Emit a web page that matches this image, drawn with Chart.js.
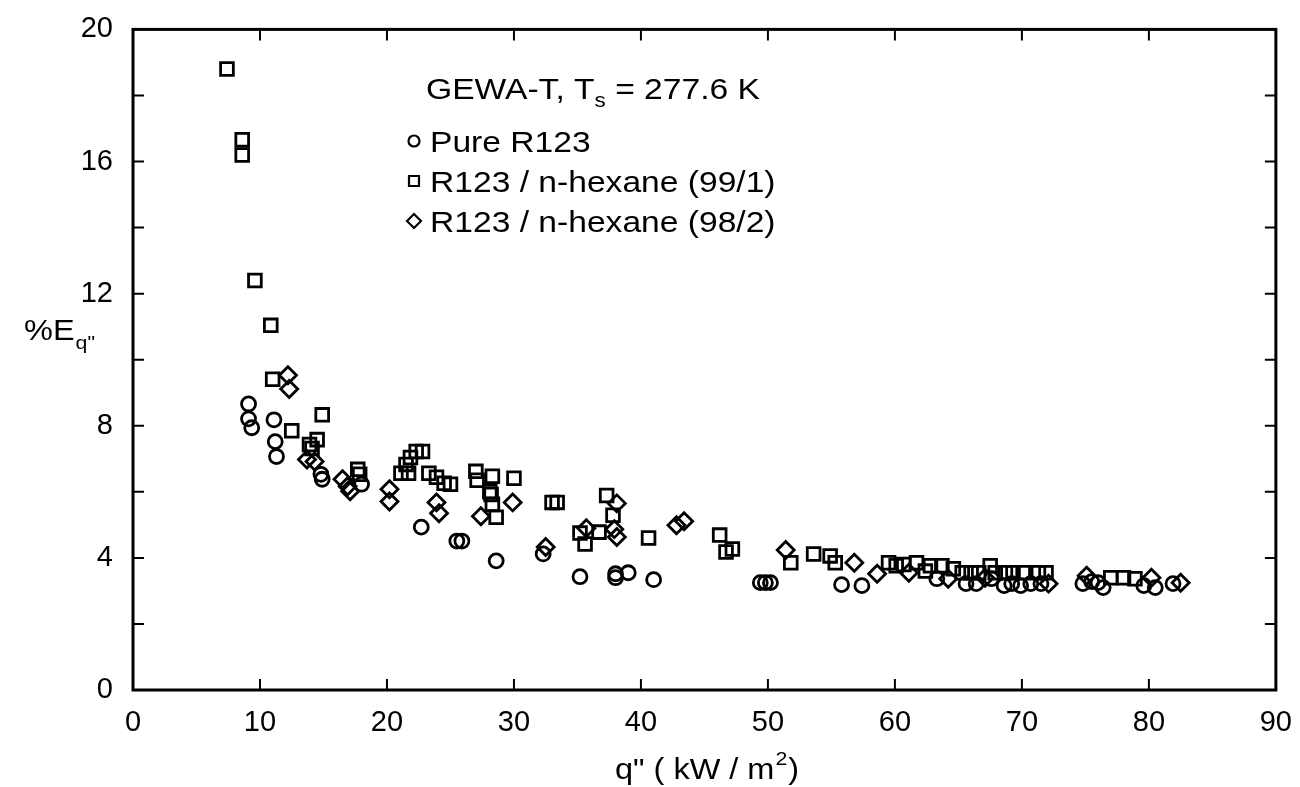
<!DOCTYPE html>
<html>
<head>
<meta charset="utf-8">
<script src="https://cdn.jsdelivr.net/npm/chart.js@4.4.0/dist/chart.umd.min.js"></script>
<style>
  html, body { margin: 0; padding: 0; background: #fff; }
  #wrap { width: 1300px; height: 787px; position: relative; }
</style>
</head>
<body>
<div id="wrap"><canvas id="c"></canvas></div>
<script>
// Pure R123 (circles)
const pureX = [9.1, 9.1, 9.35, 11.1, 11.2, 11.3, 14.8, 14.9, 18.0, 22.7, 25.5, 25.9, 28.6, 32.3, 35.2, 38.0, 38.0, 39.0, 41.0,
  49.4, 49.8, 50.2, 55.8, 57.4, 63.3, 65.6, 66.4, 67.6, 68.6, 69.2, 69.9, 70.7, 71.5, 74.8, 75.5, 76.0, 76.4, 79.6, 80.5, 81.9];
const pureY = [8.66, 8.21, 7.94, 8.18, 7.52, 7.07, 6.53, 6.38, 6.23, 4.93, 4.51, 4.51, 3.91, 4.12, 3.43, 3.52, 3.40, 3.55, 3.34,
  3.25, 3.25, 3.25, 3.19, 3.16, 3.37, 3.22, 3.22, 3.37, 3.16, 3.22, 3.16, 3.22, 3.22, 3.22, 3.28, 3.25, 3.10, 3.16, 3.10, 3.22];

// R123 / n-hexane (99/1) (squares)
const hex1X = [7.4, 8.6, 8.6, 9.6, 10.85, 11.0, 12.5, 13.9, 14.1, 14.5, 14.9, 17.7, 17.85, 21.1, 21.5, 21.7, 21.85, 22.3, 22.8,
  23.3, 23.9, 24.5, 25.0, 27.0, 27.1, 28.1, 28.2, 28.3, 28.3, 28.6, 30.0, 33.0, 33.4, 35.2, 35.6, 36.7, 37.3, 37.8, 40.6,
  46.2, 46.7, 47.2, 51.8, 53.6, 54.9, 55.3, 59.5, 60.1, 60.7, 61.7, 62.4, 62.8, 63.7, 64.6, 65.3, 66.0, 66.6, 67.5, 67.9,
  68.7, 69.3, 70.1, 71.3, 71.9, 77.0, 78.0, 78.9];
const hex1Y = [18.8, 16.66, 16.2, 12.4, 11.04, 9.41, 7.85, 7.43, 7.31, 7.58, 8.33, 6.68, 6.53, 6.56, 6.83, 6.56, 7.04, 7.22, 7.22,
  6.56, 6.44, 6.26, 6.23, 6.62, 6.35, 6.0, 5.92, 6.47, 5.62, 5.23, 6.41, 5.68, 5.68, 4.75, 4.42, 4.78, 5.89, 5.29, 4.6,
  4.69, 4.18, 4.27, 3.85, 4.12, 4.06, 3.85, 3.85, 3.76, 3.8, 3.85, 3.6, 3.76, 3.76, 3.67, 3.55, 3.55, 3.55, 3.76, 3.55,
  3.55, 3.55, 3.55, 3.55, 3.55, 3.4, 3.4, 3.37];

// R123 / n-hexane (98/2) (diamonds)
const hex2X = [12.2, 12.3, 13.7, 14.3, 16.5, 16.9, 17.1, 20.2, 20.2, 23.9, 24.1, 27.4, 29.9, 32.5, 35.7, 37.9, 38.1, 38.1,
  42.8, 43.4, 51.4, 56.8, 58.6, 61.1, 64.2, 67.1, 72.1, 75.1, 80.2, 82.5];
const hex2Y = [9.53, 9.11, 6.98, 6.92, 6.38, 6.17, 6.02, 6.08, 5.71, 5.68, 5.35, 5.26, 5.68, 4.33, 4.9, 4.87, 5.65, 4.63,
  4.99, 5.11, 4.24, 3.85, 3.52, 3.55, 3.37, 3.4, 3.22, 3.46, 3.4, 3.25];

const seriesNames = ['Pure R123', 'R123 / n-hexane (99/1)', 'R123 / n-hexane (98/2)'];
const xTicks = [0, 10, 20, 30, 40, 50, 60, 70, 80, 90];
const yTicks = [0, 4, 8, 12, 16, 20];

const FONT = '"Liberation Sans", Arial, Helvetica, sans-serif';

function toPoints(xs, ys) {
  return xs.map((v, i) => ({ x: v, y: ys[i] }));
}

function makeSet(label, xs, ys, style, r) {
  return {
    label: label,
    data: toPoints(xs, ys),
    pointStyle: style,
    pointRadius: r,
    pointBorderWidth: 2.8,
    borderColor: '#000',
    backgroundColor: 'rgba(0,0,0,0)',
    showLine: false
  };
}

// text stretched a bit sideways, like the scanned original
function wideText(ctx, str, x, y, sx) {
  ctx.save();
  ctx.translate(x, y);
  ctx.scale(sx, 1);
  ctx.fillText(str, 0, 0);
  ctx.restore();
  return ctx.measureText(str).width * sx;
}

// frame, inward ticks, titles and the text legend
const decor = {
  id: 'decor',
  afterDraw(chart) {
    const ctx = chart.ctx;
    const a = chart.chartArea;
    const xs = chart.scales.x, ys = chart.scales.y;
    ctx.save();
    ctx.strokeStyle = '#000';
    ctx.lineWidth = 3;
    ctx.strokeRect(a.left, a.top, a.right - a.left, a.bottom - a.top);

    ctx.lineWidth = 2;
    ctx.beginPath();
    for (let v = 2; v < 20; v += 2) {
      const py = ys.getPixelForValue(v);
      ctx.moveTo(a.left, py); ctx.lineTo(a.left + 11, py);
      ctx.moveTo(a.right, py); ctx.lineTo(a.right - 11, py);
    }
    for (let v = 10; v < 90; v += 10) {
      const px = xs.getPixelForValue(v);
      ctx.moveTo(px, a.bottom); ctx.lineTo(px, a.bottom - 11);
      ctx.moveTo(px, a.top); ctx.lineTo(px, a.top + 11);
    }
    ctx.stroke();

    ctx.fillStyle = '#000';
    ctx.textBaseline = 'alphabetic';
    ctx.textAlign = 'left';
    const S = 1.12;

    // y title: %E with subscript q"
    ctx.font = '29px ' + FONT;
    let yx = 24 + wideText(ctx, '%E', 24, 340, S);
    ctx.font = '19px ' + FONT;
    wideText(ctx, 'q"', yx + 1, 349, S);

    // x title with superscript 2
    ctx.font = '29px ' + FONT;
    const p1 = 'q" ( kW / m';
    const wa = ctx.measureText(p1).width * S;
    ctx.font = '19px ' + FONT;
    const wb = ctx.measureText('2').width * S;
    ctx.font = '29px ' + FONT;
    const wc = ctx.measureText(')').width * S;
    const sx = 706 - (wa + wb + wc) / 2;
    wideText(ctx, p1, sx, 779, S);
    ctx.font = '19px ' + FONT;
    wideText(ctx, '2', sx + wa + 1, 765, S);
    ctx.font = '29px ' + FONT;
    wideText(ctx, ')', sx + wa + wb + 2, 779, S);

    // annotation title: GEWA-T, Ts = 277.6 K
    ctx.font = '30px ' + FONT;
    let tx = 426 + wideText(ctx, 'GEWA-T, T', 426, 99, S);
    ctx.font = '20px ' + FONT;
    tx += wideText(ctx, 's', tx, 107, S);
    ctx.font = '30px ' + FONT;
    wideText(ctx, ' = 277.6 K', tx, 99, S);

    // legend rows
    const rows = [141, 181, 221];
    const styles = ['circle', 'rect', 'rectRot'];
    ctx.lineWidth = 2.2;
    for (let i = 0; i < 3; i++) {
      const cy = rows[i], cx = 414;
      ctx.beginPath();
      if (styles[i] === 'circle') {
        ctx.arc(cx, cy, 5.5, 0, Math.PI * 2);
      } else if (styles[i] === 'rect') {
        ctx.rect(cx - 5, cy - 5, 10, 10);
      } else {
        ctx.moveTo(cx - 7, cy); ctx.lineTo(cx, cy - 7); ctx.lineTo(cx + 7, cy); ctx.lineTo(cx, cy + 7); ctx.closePath();
      }
      ctx.stroke();
      ctx.font = '30px ' + FONT;
      wideText(ctx, seriesNames[i], 430, cy + 11, S);
    }
    ctx.restore();
  }
};

new Chart(document.getElementById('c'), {
  type: 'scatter',
  data: {
    datasets: [
      makeSet(seriesNames[0], pureX, pureY, 'circle', 7),
      makeSet(seriesNames[1], hex1X, hex1Y, 'rect', 9),
      makeSet(seriesNames[2], hex2X, hex2Y, 'rectRot', 8.5)
    ]
  },
  options: {
    responsive: true,
    maintainAspectRatio: false,
    animation: false,
    layout: { padding: { top: 25, right: 22, left: 0, bottom: 0 } },
    plugins: { legend: { display: false }, tooltip: { enabled: false } },
    scales: {
      x: {
        type: 'linear', min: 0, max: 90,
        afterBuildTicks: (s) => { s.ticks = xTicks.map(v => ({ value: v })); },
        afterFit: (s) => { s.height = 97; },
        grid: { display: false },
        border: { display: false },
        ticks: { color: '#000', padding: 8, maxRotation: 0, font: { family: FONT, size: 29 } }
      },
      y: {
        type: 'linear', min: 0, max: 20,
        afterBuildTicks: (s) => { s.ticks = yTicks.map(v => ({ value: v })); },
        afterFit: (s) => { s.width = 133; },
        grid: { display: false },
        border: { display: false },
        ticks: { color: '#000', padding: 12, font: { family: FONT, size: 29 } }
      }
    }
  },
  plugins: [decor]
});
</script>
</body>
</html>
